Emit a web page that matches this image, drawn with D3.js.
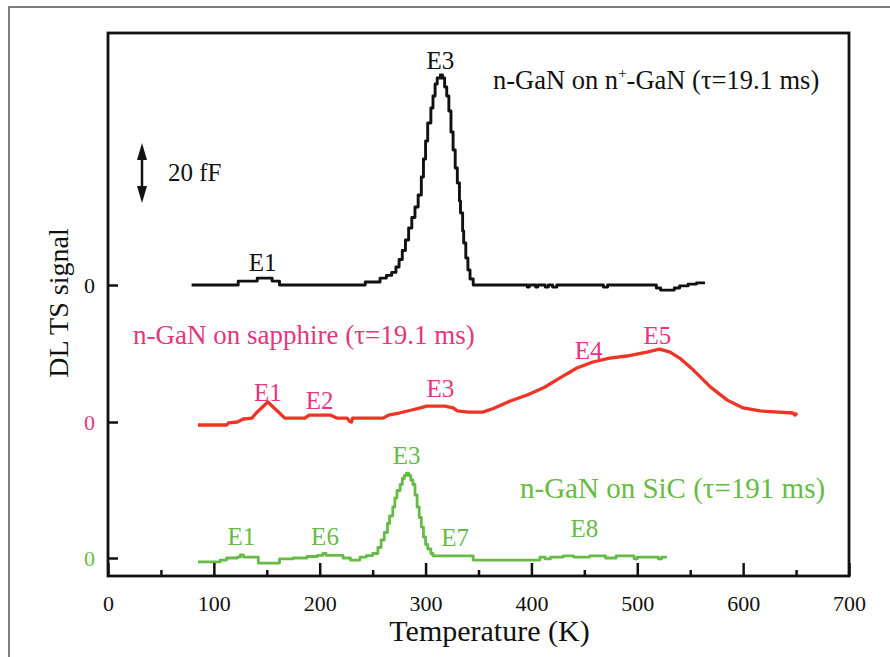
<!DOCTYPE html>
<html>
<head>
<meta charset="utf-8">
<script src="https://cdn.jsdelivr.net/npm/d3@7"></script>
<style>
body { margin: 0; background: #fff; }
text { font-family: "Liberation Serif", "Times New Roman", serif; }
</style>
</head>
<body>
<script>
// temperature (K) and DLTS signal (fF)
var blackT = [79,123,141,155,162,243,257,263,268,272,275,278,281,284,287,290,293,296,298,300,302,305,307,309,311,314,316,318,320,322,324,326,328,330,332,333,335,336,338,340,342,345,396,398,404,406,413,416,420,424,468,472,518,522,535,540,548,556,564];
var blackV = [0,1.3,2.3,1.3,0,1,2.3,3.2,4.2,6,8.5,11.5,15,19,22.5,26,30,36,42,48,54,59,63,67,69,70,69,66,63,58,51,45,39,34,28,24,18,14,9,5,2,0,-0.7,0,-0.7,0,-0.7,0,-0.7,0,-0.7,0,-1,-1.7,-1,-0.3,0.3,0.7,0.7];

var pinkT = [85,112,114,122,128,136,140,146,151,156,162,167,186,190,210,216,226,228,230,231,260,265,275,287,295,301,318,326,330,340,354,364,380,396,412,427,443,458,474,490,509,521,531,540,553,569,585,600,616,647,649,651];
var pinkV = [-1,-1,-0.3,0,1,1.3,3,5,6.7,5,3,1.3,1.3,2.3,2.3,1.3,1.3,0.3,0,1.3,1.3,2.3,3,4,4.7,5.3,5.3,4.7,3.7,3.3,3.3,4.5,7,9,11.5,14.7,18,20,21.3,22,23.3,24.3,23.3,21.3,17.3,11.7,7.3,4.7,3.7,3,2.3,3];

var greenT = [85,106,112,122,125,128,142,162,175,188,198,203,206,222,229,238,244,250,255,258,261,264,266,269,271,273,276,278,280,282,284,286,288,290,292,294,296,298,300,302,305,307,345,408,413,418,430,440,455,470,480,497,500,520,523,528];
var greenV = [-1.3,-0.7,0,0.3,1,0.3,-1.7,-0.3,0,0.5,0.9,1.5,0.9,0,-0.7,0.3,0.8,1.5,3.5,6,8.5,11.5,14,17,20,22.5,24.5,26.5,27.5,28.3,27.5,26,24.5,21,17,13.5,10.3,7,4.5,3,1.5,0.7,-0.7,0.3,-0.3,0.3,0.7,0.3,0.7,0,0.7,-0.3,0.3,-0.3,0.3,0.3];

// vertical offsets of each trace (fF)
var offsets = [91, 45.33, 0];
var xTicks = [0,100,200,300,400,500,600,700];
var xMinor = [50,150,250,350,450,550,650];

var blackLabels = ["E1","E3"], blackLabT = [146,314], blackLabV = [7.7,75];
var pinkLabels = ["E1","E2","E3","E4","E5"], pinkLabT = [151,200,314,454,519], pinkLabV = [10,7.3,11.3,24,29];
var greenLabels = ["E1","E6","E3","E7","E8"], greenLabT = [126,205,282,328,450], greenLabV = [7.3,7.3,34.3,7,10];

var w = 890, h = 657;
var mLeft = 108, mRight = 849, mTop = 33, mBottom = 576;

var svg = d3.select("body").append("svg")
	.attr("width", w)
	.attr("height", h);

// outer frame
svg.append("rect")
	.attr("x", 9).attr("y", 7)
	.attr("width", 920).attr("height", 700)
	.attr("fill", "none")
	.attr("stroke", "#555")
	.attr("stroke-width", 1.5);

var x = d3.scaleLinear().domain([0, 700]).range([mLeft, mRight]);
var y = d3.scaleLinear().domain([-6, 175]).range([mBottom, mTop]);

function drawTrace(T, V, off, color, curve, sw) {
	var pts = T.map(function(t, i){ return [t, V[i] + off]; });
	svg.append("path")
		.datum(pts)
		.attr("fill", "none")
		.attr("stroke", color)
		.attr("stroke-width", sw)
		.attr("stroke-linejoin", "round")
		.attr("d", d3.line()
			.x(function(d){ return x(d[0]); })
			.y(function(d){ return y(d[1]); })
			.curve(curve));
}
drawTrace(blackT, blackV, offsets[0], "#111", d3.curveStepAfter, 2.9);
drawTrace(pinkT, pinkV, offsets[1], "#ee3424", d3.curveLinear, 3.3);
drawTrace(greenT, greenV, offsets[2], "#66bb46", d3.curveStepAfter, 2.8);

// axes
var xAxis = svg.append("g")
	.attr("transform", "translate(0," + mBottom + ")")
	.call(d3.axisBottom(x).tickValues(xTicks).tickSizeInner(-13).tickSizeOuter(0).tickPadding(19));
svg.append("g")
	.attr("transform", "translate(0," + mBottom + ")")
	.call(d3.axisBottom(x).tickValues(xMinor).tickSizeInner(-6).tickSizeOuter(0).tickFormat(""))
	.select(".domain").remove();
xAxis.selectAll("text")
	.attr("font-size", 22)
	.attr("font-family", "Liberation Serif, serif")
	.attr("fill", "#111");

var tickColors = ["#111", "#e5357f", "#66bb46"];
var yAxis = svg.append("g")
	.attr("transform", "translate(" + mLeft + ",0)")
	.call(d3.axisLeft(y).tickValues(offsets).tickSizeInner(-10).tickSizeOuter(0).tickPadding(13).tickFormat(function(){ return "0"; }));
yAxis.select(".domain").remove();
yAxis.selectAll("text")
	.attr("font-size", 22)
	.attr("font-family", "Liberation Serif, serif")
	.attr("fill", function(d, i){ return tickColors[i]; });
svg.selectAll(".tick line").attr("stroke", "#111").attr("stroke-width", 2.5);

// plot box
svg.append("rect")
	.attr("x", mLeft).attr("y", mTop)
	.attr("width", mRight - mLeft).attr("height", mBottom - mTop)
	.attr("fill", "none")
	.attr("stroke", "#111")
	.attr("stroke-width", 2.8);

// axis titles
svg.append("text")
	.attr("x", (mLeft + mRight) / 2 + 11).attr("y", 641)
	.attr("text-anchor", "middle")
	.attr("font-size", 30)
	.attr("fill", "#111")
	.text("Temperature (K)");
svg.append("text")
	.attr("transform", "translate(68,303) rotate(-90)")
	.attr("text-anchor", "middle")
	.attr("font-size", 28)
	.attr("fill", "#111")
	.text("DL TS signal");

// 20 fF scale arrow
var ax = 142;
svg.append("line")
	.attr("x1", ax).attr("x2", ax)
	.attr("y1", 150).attr("y2", 196)
	.attr("stroke", "#111").attr("stroke-width", 2.5);
svg.append("path").attr("d", "M" + ax + ",143 L" + (ax - 5) + ",160 L" + (ax + 5) + ",160 Z").attr("fill", "#111");
svg.append("path").attr("d", "M" + ax + ",203 L" + (ax - 5) + ",186 L" + (ax + 5) + ",186 Z").attr("fill", "#111");
svg.append("text")
	.attr("x", 168).attr("y", 181)
	.attr("font-size", 25)
	.attr("fill", "#111")
	.text("20 fF");

// peak labels
function drawLabels(names, T, V, off, color) {
	svg.selectAll(null)
		.data(names)
		.enter()
		.append("text")
		.text(function(d){ return d; })
		.attr("text-anchor", "middle")
		.attr("x", function(d, i){ return x(T[i]); })
		.attr("y", function(d, i){ return y(V[i] + off) + 9; })
		.attr("font-size", 25)
		.attr("fill", color);
}
drawLabels(blackLabels, blackLabT, blackLabV, offsets[0], "#111");
drawLabels(pinkLabels, pinkLabT, pinkLabV, offsets[1], "#e5357f");
drawLabels(greenLabels, greenLabT, greenLabV, offsets[2], "#66bb46");

// sample labels
var t1 = svg.append("text").attr("x", 493).attr("y", 89).attr("font-size", 26.5).attr("fill", "#111");
t1.append("tspan").text("n-GaN on n");
t1.append("tspan").attr("dy", -11).attr("font-size", 15).text("+");
t1.append("tspan").attr("dy", 11).text("-GaN (\u03c4=19.1 ms)");

svg.append("text").attr("x", 133).attr("y", 344)
	.attr("font-size", 27).attr("fill", "#e5357f")
	.text("n-GaN on sapphire (\u03c4=19.1 ms)");
svg.append("text").attr("x", 520).attr("y", 498)
	.attr("font-size", 29).attr("fill", "#66bb46")
	.text("n-GaN on SiC (\u03c4=191 ms)");
</script>
</body>
</html>
